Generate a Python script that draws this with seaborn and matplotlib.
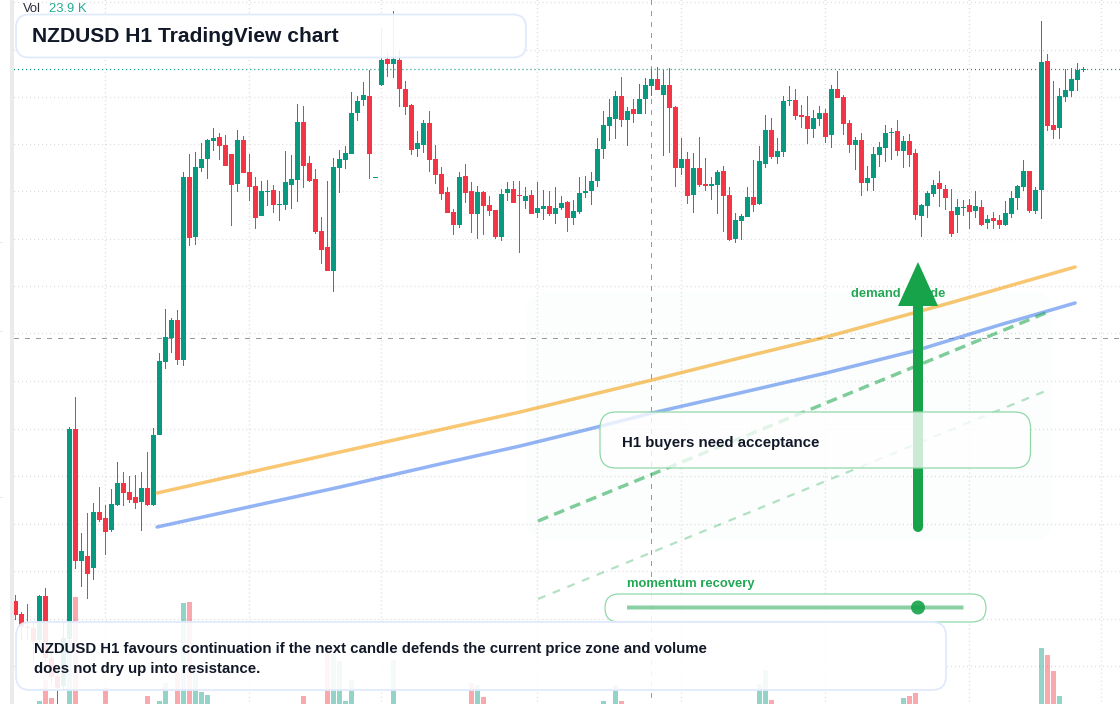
import matplotlib
matplotlib.use("Agg")
import matplotlib.pyplot as plt
import seaborn as sns
import pandas as pd
from matplotlib.patches import FancyBboxPatch, Polygon, Circle, Rectangle
from matplotlib.transforms import Affine2D

# Price readings on the chart's own (downward counting) level scale
opens = [601,614,627,628,640,596,658,676,686,639,
         429,561,556,568,512,518,530,505,483,492,
         497,502,488,505,435,362,338,320,360,177,
         237,168,159,141,137,145,154,184,140,172,
         186,216,192,190,205,205,185,180,122,163,
         179,231,247,271,168,160,154,113,100,96,
         178,85,59,64,60,89,105,149,145,123,
         159,174,192,212,225,176,191,214,192,205,
         210,237,193,189,195,201,195,213,209,206,
         214,208,202,218,212,193,191,181,149,126,
         119,96,120,109,114,99,86,79,95,85,
         107,168,159,195,168,184,186,185,171,195,
         239,221,217,197,204,164,130,157,152,101,
         100,115,116,129,119,113,135,89,97,123,
         145,140,183,178,155,148,133,131,151,141,
         153,216,206,194,183,189,211,215,208,205,
         211,207,223,218,220,225,214,198,187,171,
         211,190,61,125,128,97,91,80,70]
highs = [595,612,604,622,595,588,653,670,623,427,
         397,533,513,503,487,505,489,462,472,476,
         475,472,452,428,353,309,318,310,172,154,
         152,143,139,128,133,135,154,130,136,154,
         177,181,180,185,191,151,155,104,106,156,
         169,217,181,158,150,146,92,96,82,70,
         177,28,51,11,50,81,104,131,120,111,
         145,167,187,209,172,164,182,186,191,196,
         210,189,182,181,181,187,190,182,190,191,
         187,196,201,200,177,176,172,138,111,99,
         91,77,107,99,84,78,69,67,70,68,
         106,138,152,153,137,158,177,170,166,187,
         213,214,187,160,146,115,118,138,96,86,
         89,105,96,110,106,109,85,71,95,120,
         137,133,166,147,142,125,128,120,136,134,
         149,204,191,180,171,185,189,199,200,199,
         191,200,215,212,215,201,191,185,160,171,
         187,21,54,81,88,69,68,63,67]
lows = [620,640,640,662,642,662,683,704,690,641,
        569,587,599,580,522,555,532,506,506,503,
        509,531,506,506,435,369,353,365,366,246,
        245,172,179,151,160,166,226,192,173,201,
        229,216,206,213,221,210,209,202,188,182,
        234,264,271,292,193,169,154,121,106,179,
        178,86,77,78,107,115,155,157,153,172,
        184,200,213,235,228,203,233,239,235,216,
        239,241,201,203,253,209,214,218,220,216,
        224,210,232,225,214,198,205,187,159,141,
        139,127,146,123,114,114,96,90,156,153,
        187,175,204,213,187,191,200,214,232,241,
        243,240,217,212,205,168,159,164,157,106,
        120,128,144,138,126,143,148,98,135,153,
        170,196,191,191,167,162,160,156,168,167,
        220,237,218,197,207,210,237,233,216,229,
        218,226,229,229,229,226,218,210,191,213,
        214,219,131,139,139,102,97,91,72]
closes = [615,627,628,641,596,658,677,688,638,429,
          561,551,574,512,520,532,504,483,493,500,
          503,488,505,435,361,337,320,360,177,238,
          167,159,140,138,146,166,185,140,173,187,
          218,191,191,205,204,182,179,122,166,181,
          232,250,271,167,159,153,113,101,95,154,
          177,60,64,59,89,107,150,143,123,160,
          175,194,213,225,177,193,214,192,206,211,
          237,194,189,203,196,196,214,208,206,214,
          208,203,218,211,193,191,181,149,125,117,
          96,120,111,114,99,85,79,90,85,108,
          168,159,196,168,185,186,184,172,196,240,
          220,216,197,205,161,130,157,151,101,100,
          116,117,129,118,113,137,89,98,124,145,
          140,183,178,154,147,133,132,151,141,155,
          215,205,193,185,189,198,234,207,207,212,
          206,225,219,221,225,213,198,186,171,211,
          190,62,126,130,96,90,79,70,69]

# Volume (only the bars that rise into view)
vol_index = [4,5,6,9,10,15,22,24,25,27,28,29,30,31,32,48,52,53,54,55,56,63,
             76,77,78,98,100,101,124,125,126,148,149,150,171,172,173,174]
vol_height = [3,24,6,64,107,16,8,3,21,32,101,102,31,12,9,8,51,51,43,3,24,44,
              21,19,7,3,19,3,20,34,4,6,8,11,56,49,33,8]

# Two moving averages, read at candle positions
ma_orange_x = [23.6,54.1,84.1,106.1,120.7,135.1,155.7,176.6]
ma_orange = [493,452,412,380,358,337,303,267]
ma_blue_x = [23.6,54.1,70.0,84.1,95.0,106.1,120.7,135.1,150.4,164.0,176.6]
ma_blue = [527,487,465,446,430,413,393,373,350,325,303]

title = "NZDUSD H1 TradingView chart"
note_lines = ["NZDUSD H1 favours continuation if the next candle defends the current price zone and volume",
              "does not dry up into resistance."]
callout = "H1 buyers need acceptance"
gauge_label = "momentum recovery"
zone_label = "demand  shade"
vol_label = "Vol"
vol_value = "23.9 K"

GREEN = "#089981"
RED = "#F23645"
W, H = 1120, 704

sns.set_theme(style="white")
plt.rcParams["font.family"] = ["Liberation Sans", "DejaVu Sans"]

fig = plt.figure(figsize=(W / 100, H / 100), dpi=100, facecolor="white")
ax = fig.add_axes([0, 0, 1, 1])
ax.set_xlim(-15.5 / 6, (W - 15.5) / 6)
ax.set_ylim(H, 0)
ax.set_autoscale_on(False)
ax.axis("off")

px = Affine2D().scale(1, -1).translate(0, H)   # pixels from the top-left corner
one = 0.72                                      # one pixel, in points


def box(x0, y0, x1, y1, r, face, falpha, edge=None, elw=0.0, z=10):
    ax.add_patch(FancyBboxPatch((x0 + r, y0 + r), x1 - x0 - 2 * r, y1 - y0 - 2 * r,
                                boxstyle=f"round,pad={r},rounding_size={r}",
                                facecolor=matplotlib.colors.to_rgba(face, falpha),
                                edgecolor=edge if edge else "none",
                                linewidth=elw * one, transform=px, zorder=z, clip_on=False))


def label(x, y, s, size, color, weight="bold", z=11, **kw):
    ax.text(x, y, s, fontsize=size * one, color=color, fontweight=weight, va="center",
            transform=px, zorder=z, **kw)


# grid
dots = (0, (0.8, 2.28))
for y in [2.5, 50.5, 97.5, 144.5, 191.5, 239.5, 286.5, 333.5, 381.5, 429.5, 476.5, 524.5, 571.5, 619.5, 666.5]:
    ax.plot([14, W], [y, y], transform=px, color="#dcdcdc", lw=1.3 * one, ls=dots, zorder=0.5, snap=False)
for x in [105.5, 249.5, 381.5, 537.5, 681.5, 825.5, 969.5, 1101.5]:
    ax.plot([x, x], [0, H], transform=px, color="#dcdcdc", lw=1.3 * one, ls=dots, zorder=0.5, snap=False)

# crosshair and last-price line
dash = (0, (5, 6))
ax.plot([14, W], [338.5, 338.5], transform=px, color="#9a9a9a", lw=one, ls=dash, zorder=0.8, snap=False)
ax.plot([651.5, 651.5], [0, H], transform=px, color="#9a9a9a", lw=one, ls=dash, zorder=0.8, snap=False)
ax.plot([14, W], [69.5, 69.5], transform=px, color=GREEN, lw=1.3 * one, ls=dots, zorder=0.9, snap=False)

# volume
vol_colors = [GREEN if closes[i] < opens[i] else RED for i in vol_index]
ax.bar(vol_index, vol_height, bottom=[H - h for h in vol_height], width=5 / 6,
       color=vol_colors, alpha=0.43, linewidth=0, zorder=1)

# candles
idx = list(range(len(opens)))
colors = [GREEN if c < o else RED for o, c in zip(opens, closes)]
ax.vlines(idx, highs, lows, colors=colors, linewidth=one, zorder=2, snap=False)
ax.bar(idx, [abs(c - o) for o, c in zip(opens, closes)],
       bottom=[min(o, c) for o, c in zip(opens, closes)], width=5 / 6,
       color=colors, linewidth=0, zorder=2.1)

# left strip and margin ticks
ax.add_patch(Rectangle((10, 0), 4, H, transform=px, facecolor="#ebebeb", edgecolor="none", zorder=3))
for y in [242, 331, 497]:
    ax.plot([0, 2], [y, y], transform=px, color="#e6e6e6", lw=one, zorder=3)

# moving averages
sns.lineplot(x=ma_orange_x, y=ma_orange, ax=ax, color="#f59e0b", alpha=0.58, lw=3.5 * one,
             estimator=None, sort=False, zorder=4, legend=False)
sns.lineplot(x=ma_blue_x, y=ma_blue, ax=ax, color="#3b76ee", alpha=0.55, lw=3.5 * one,
             estimator=None, sort=False, zorder=4, legend=False)
ax.set_xlim(-15.5 / 6, (W - 15.5) / 6)
ax.set_ylim(H, 0)
ax.axis("off")

# demand zone and projections
box(527, 292, 1052, 540, 20, "#22c55e", 0.016, z=4.5)
ax.plot([538, 1048], [521, 312], transform=px, color="#16a34a", alpha=0.55, lw=3.4 * one,
        ls=(0, (3.2, 1.9)), dash_capstyle="butt", zorder=5)
ax.plot([538, 1048], [599, 390], transform=px, color="#16a34a", alpha=0.32, lw=2.2 * one,
        ls=(0, (3.6, 3.6)), dash_capstyle="butt", zorder=5)

# arrow with its label beneath
label(851, 294, zone_label, 13, "#22a855", z=6)
ax.plot([918, 918], [527, 300], transform=px, color="#16a34a", lw=10 * one,
        solid_capstyle="round", zorder=7)
ax.add_patch(Polygon([(898, 306), (938, 306), (918, 262)], closed=True, transform=px,
                     facecolor="#16a34a", edgecolor="none", zorder=7.1))

# callout
box(600, 412, 1030.5, 468, 16, "white", 0.78, "#8ed6a6", 1.2, z=8)
label(622, 442.5, callout, 15, "#111827", z=8.1)

# momentum gauge
label(627, 584.5, gauge_label, 13, "#22a855", z=8.1)
box(605, 594, 986, 622, 14, "white", 0.85, "#8ed6a6", 1.2, z=8)
ax.plot([627, 963.5], [607.5, 607.5], transform=px, color="#16a34a", alpha=0.5, lw=4 * one,
        solid_capstyle="butt", zorder=8.1, snap=False)
ax.add_patch(Circle((918, 607.5), 7, transform=px, facecolor="#16a34a", alpha=0.9,
                    edgecolor="none", zorder=8.2))

# header and conclusion panels
label(23, 9.5, vol_label, 13, "#2a2e39", weight="normal", z=12)
label(49, 9.5, vol_value, 13, "#22ab94", weight="normal", z=12)
box(16, 14.5, 526, 57.5, 13, "white", 0.92, "#e0eafc", 1.8, z=10)
label(32, 37, title, 20.95, "#111827", z=11)
box(16, 622, 946, 690, 14, "white", 0.9, "#e0eafc", 1.8, z=10)
label(34, 649.5, note_lines[0], 15.05, "#111827", z=11)
label(34, 669.5, note_lines[1], 15.05, "#111827", z=11)

fig.savefig("out.png", dpi=100, facecolor="white")
